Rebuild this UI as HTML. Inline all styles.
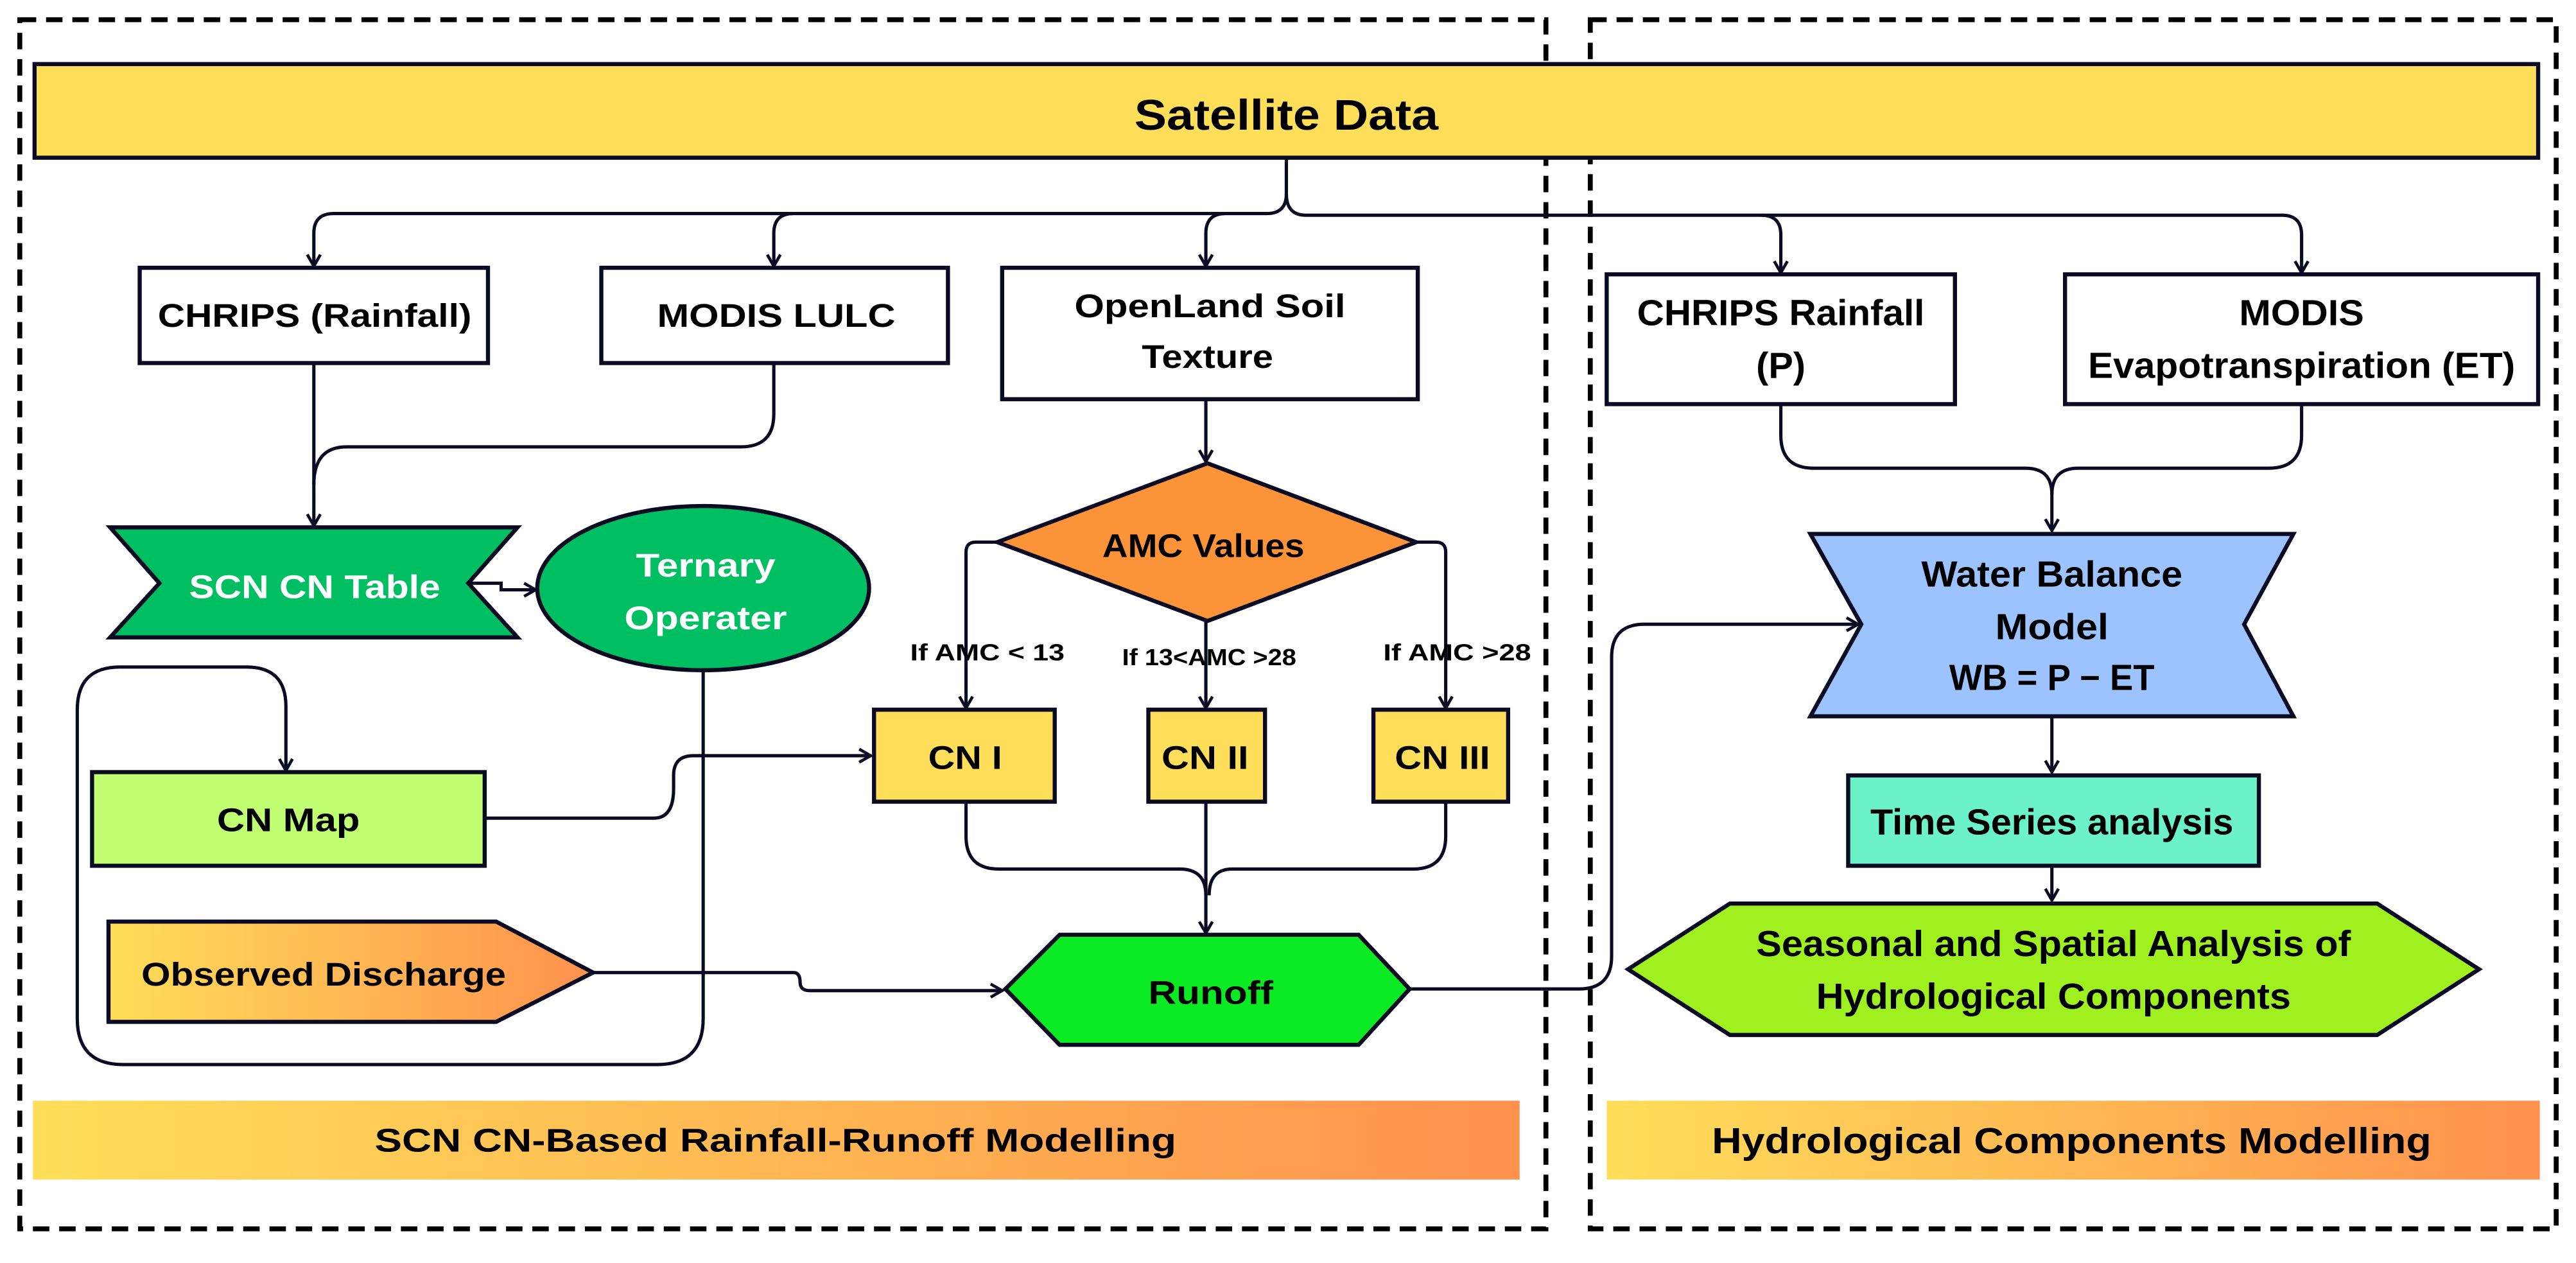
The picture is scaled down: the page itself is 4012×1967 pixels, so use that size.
<!DOCTYPE html>
<html><head><meta charset="utf-8"><style>
html,body{margin:0;padding:0;background:#fff}
svg{display:block}
text{font-family:"Liberation Sans",sans-serif;font-weight:bold;fill:#000}
</style></head><body>
<svg xmlns="http://www.w3.org/2000/svg" width="4012" height="1967" viewBox="0 0 1568 768.8">
<defs>
<linearGradient id="g1" x1="0" x2="1" y1="0" y2="0"><stop offset="0" stop-color="#FFDE59"/><stop offset="1" stop-color="#FF914D"/></linearGradient>
<marker id="a" markerWidth="10" markerHeight="10" refX="8" refY="5" orient="auto" markerUnits="userSpaceOnUse"><path d="M1,1 L8,5 L1,9" fill="none" stroke="#0a0a23" stroke-width="1.8"/></marker>
</defs>
<rect width="1568" height="768.8" fill="#fff"/>
<rect x="12" y="12" width="929" height="736" fill="none" stroke="#000" stroke-width="3" stroke-dasharray="10,6"/>
<rect x="968" y="12" width="588" height="736" fill="none" stroke="#000" stroke-width="3" stroke-dasharray="10,6"/>
<rect x="21" y="39" width="1524" height="57" fill="#FFDE59" stroke="#0a0a23" stroke-width="2.5"/>
<text x="783" y="79" font-size="26" text-anchor="middle" textLength="185" lengthAdjust="spacingAndGlyphs">Satellite Data</text>

<g fill="none" stroke="#0a0a23" stroke-width="2">
<path d="M783,96 V118 Q783,130 771,130 H203 Q191,130 191,142 V162" marker-end="url(#a)"/>
<path d="M483,130 Q471,130 471,142 V162" marker-end="url(#a)"/>
<path d="M746,130 Q734,130 734,142 V162" marker-end="url(#a)"/>
<path d="M783,118 Q783,131 795,131 H1072 Q1084,131 1084,143 V166" marker-end="url(#a)"/>
<path d="M1072,131 H1389 Q1401,131 1401,143 V166" marker-end="url(#a)"/>
<path d="M191,221 V320" marker-end="url(#a)"/>
<path d="M471,221 V252 Q471,272 451,272 H211 Q191,272 191,295"/>
<path d="M286,355 H305 V359 H326" marker-end="url(#a)"/>
<path d="M428,408 V620 Q428,648 400,648 H75 Q47,648 47,620 V432 Q47,406 73,406 H150 Q174,406 174,430 V469" marker-end="url(#a)"/>
<path d="M295,498 H398 Q410,498 410,480 V472 Q410,460 422,460 H530" marker-end="url(#a)"/>
<path d="M361,592 H483 Q487,592 487,598 Q487,603 493,603 H610" marker-end="url(#a)"/>
<path d="M734,243 V281" marker-end="url(#a)"/>
<path d="M607,330 H594 Q588,330 588,336 V431" marker-end="url(#a)"/>
<path d="M734,378 V431" marker-end="url(#a)"/>
<path d="M862,330 H874 Q880,330 880,336 V431" marker-end="url(#a)"/>
<path d="M588,488 V509 Q588,529 608,529 H718 Q734,529 734,545"/>
<path d="M880,488 V509 Q880,529 860,529 H750 Q736,529 736,545"/>
<path d="M734,488 V568" marker-end="url(#a)"/>
<path d="M858,602 H961 Q981,602 981,582 V400 Q981,380 1001,380 H1131" marker-end="url(#a)"/>
<path d="M1084,246 V265 Q1084,285 1104,285 H1233 Q1249,285 1249,301 V323" marker-end="url(#a)"/>
<path d="M1401,246 V265 Q1401,285 1381,285 H1265 Q1249,285 1249,301"/>
<path d="M1249,436 V470" marker-end="url(#a)"/>
<path d="M1249,527 V548" marker-end="url(#a)"/>
</g>

<g stroke="#0a0a23" stroke-width="2.5">
<rect x="85" y="163" width="212" height="58" fill="#fff"/>
<rect x="366" y="163" width="211" height="58" fill="#fff"/>
<rect x="610" y="163" width="253" height="80" fill="#fff"/>
<rect x="978" y="167" width="212" height="79" fill="#fff"/>
<rect x="1257" y="167" width="288" height="79" fill="#fff"/>
<polygon points="67,321 315,321 285,355 315,388 67,388 97,355" fill="#00BF63"/>
<ellipse cx="428" cy="358" rx="101" ry="50" fill="#00BF63"/>
<rect x="56" y="470" width="239" height="57" fill="#C1FF72"/>
<polygon points="66,561 302,561 361,592 302,622 66,622" fill="url(#g1)"/>
<polygon points="607,330 735,282 862,330 735,378" fill="#FB9438"/>
<rect x="532" y="432" width="110" height="56" fill="#FFDE59"/>
<rect x="699" y="432" width="71" height="56" fill="#FFDE59"/>
<rect x="836" y="432" width="82" height="56" fill="#FFDE59"/>
<polygon points="612,602 645,569 827,569 858,602 827,636 645,636" fill="#0AEB24"/>
<polygon points="1102,325 1396,325 1366,380 1396,436 1102,436 1133,380" fill="#9DC3FF"/>
<rect x="1125" y="472" width="250" height="55" fill="#6BF2C8"/>
<polygon points="991,590 1053,550 1447,550 1509,590 1447,630 1053,630" fill="#A0F020"/>
</g>
<rect x="20" y="670" width="905" height="48" fill="url(#g1)"/>
<rect x="978" y="670" width="568" height="48" fill="url(#g1)"/>

<g font-size="20">
<text x="96" y="199" textLength="191" lengthAdjust="spacingAndGlyphs">CHRIPS (Rainfall)</text>
<text x="400" y="199" textLength="145" lengthAdjust="spacingAndGlyphs">MODIS  LULC</text>
<text x="654" y="193" textLength="165" lengthAdjust="spacingAndGlyphs">OpenLand Soil</text>
<text x="695" y="224" textLength="80" lengthAdjust="spacingAndGlyphs">Texture</text>
<text x="115" y="364" textLength="153" lengthAdjust="spacingAndGlyphs" style="fill:#fff">SCN CN Table</text>
<text x="387" y="351" textLength="85" lengthAdjust="spacingAndGlyphs" style="fill:#fff">Ternary</text>
<text x="380" y="383" textLength="99" lengthAdjust="spacingAndGlyphs" style="fill:#fff">Operater</text>
<text x="132" y="506" textLength="87" lengthAdjust="spacingAndGlyphs">CN Map</text>
<text x="86" y="600" textLength="222" lengthAdjust="spacingAndGlyphs">Observed Discharge</text>
<text x="671" y="339" textLength="123" lengthAdjust="spacingAndGlyphs">AMC Values</text>
<text x="565" y="468" textLength="45" lengthAdjust="spacingAndGlyphs">CN I</text>
<text x="707" y="468" textLength="53" lengthAdjust="spacingAndGlyphs">CN II</text>
<text x="849" y="468" textLength="58" lengthAdjust="spacingAndGlyphs">CN III</text>
<text x="699" y="611" textLength="76" lengthAdjust="spacingAndGlyphs">Runoff</text>
<text x="228" y="701" textLength="488" lengthAdjust="spacingAndGlyphs">SCN CN-Based Rainfall-Runoff Modelling</text>
</g>
<g font-size="14">
<text x="554" y="402" textLength="94" lengthAdjust="spacingAndGlyphs">If AMC &lt; 13</text>
<text x="683" y="405" textLength="106" lengthAdjust="spacingAndGlyphs">If 13&lt;AMC &gt;28</text>
<text x="842" y="402" textLength="90" lengthAdjust="spacingAndGlyphs">If AMC &gt;28</text>
</g>
<g font-size="22" text-anchor="middle">
<text x="1084" y="198" textLength="175" lengthAdjust="spacingAndGlyphs">CHRIPS Rainfall</text>
<text x="1084" y="230" textLength="30" lengthAdjust="spacingAndGlyphs">(P)</text>
<text x="1401" y="198" textLength="76" lengthAdjust="spacingAndGlyphs">MODIS</text>
<text x="1401" y="230" textLength="260" lengthAdjust="spacingAndGlyphs">Evapotranspiration (ET)</text>
<text x="1249" y="357" textLength="159" lengthAdjust="spacingAndGlyphs">Water Balance</text>
<text x="1249" y="389" textLength="69" lengthAdjust="spacingAndGlyphs">Model</text>
<text x="1249" y="420" textLength="125" lengthAdjust="spacingAndGlyphs">WB = P − ET</text>
<text x="1249" y="508" textLength="221" lengthAdjust="spacingAndGlyphs">Time Series analysis</text>
<text x="1250" y="582" textLength="362" lengthAdjust="spacingAndGlyphs">Seasonal  and Spatial Analysis of</text>
<text x="1250" y="614" textLength="289" lengthAdjust="spacingAndGlyphs">Hydrological Components</text>
<text x="1261" y="702" textLength="438" lengthAdjust="spacingAndGlyphs">Hydrological Components Modelling</text>
</g>
</svg>
</body></html>
